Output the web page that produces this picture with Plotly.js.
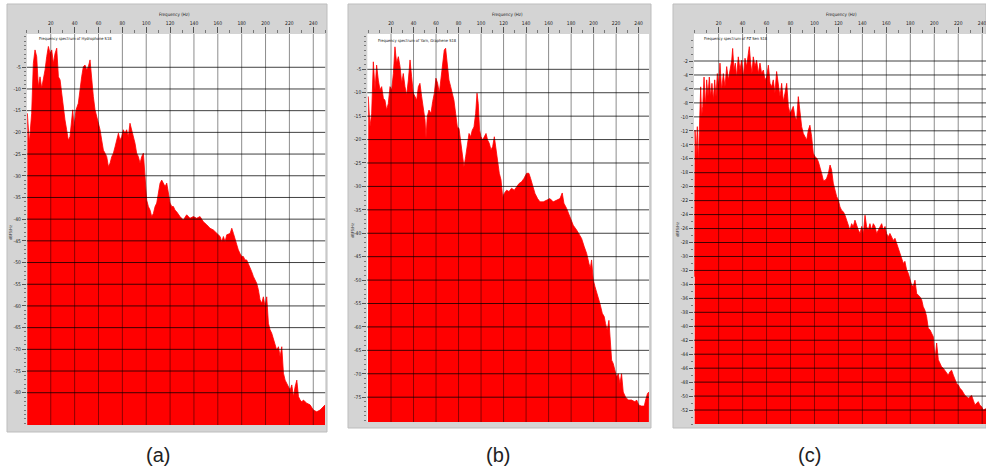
<!DOCTYPE html>
<html><head><meta charset="utf-8">
<script src="https://cdn.plot.ly/plotly-3.0.1.min.js"></script>
<style>html,body{margin:0;padding:0;background:#fff;}#chart{width:986px;height:471px;}</style>
</head><body><div id="chart"></div>
<script>
// ---- data (frequency in Hz, level in dB) ----
const FREQ_A = [0.4,2.0,4.0,5.4,6.8,8.2,9.6,11.0,12.4,13.8,15.2,16.6,18.0,19.4,20.8,22.2,23.6,25.0,26.4,27.8,29.1,30.5,31.9,33.3,34.7,36.1,37.5,38.4,39.5,41.2,43.1,44.5,45.9,47.3,48.7,50.1,51.5,52.9,54.3,55.7,57.1,58.5,59.9,61.3,62.7,64.1,65.5,66.9,68.3,69.7,71.1,72.5,73.9,75.3,76.7,78.0,79.4,80.8,82.2,83.6,85.0,86.4,87.8,89.2,90.6,92.0,93.4,94.8,96.2,97.6,99.0,100.4,101.8,103.2,104.6,106.0,107.4,108.8,110.2,111.6,113.0,114.4,115.8,117.2,118.6,120.0,121.4,122.8,124.1,125.5,128.3,131.1,133.9,136.7,139.5,142.3,145.1,147.9,150.7,153.5,156.3,159.1,161.9,163.3,164.7,166.1,167.5,170.3,171.7,173.1,174.5,175.8,177.2,178.6,180.0,181.4,182.8,184.2,185.6,187.0,188.4,189.8,191.2,192.6,194.0,195.4,196.8,198.2,199.6,201.0,202.4,203.8,205.2,206.6,208.0,209.4,210.8,212.2,213.6,215.0,216.4,217.8,219.2,220.6,222.0,223.4,224.8,226.2,227.6,229.0,230.4,231.7,234.5,237.3,240.1,242.9,245.7,248.5,249.9];
const DB_A = [-15.6,-22.5,-15.6,-4.1,-1.0,-2.55,-9.5,-7.2,-9.8,-7.9,-5.6,-2.55,-0.2,-1.8,-1.0,-4.1,-1.8,-0.6,-7.2,-7.9,-11.0,-14.1,-17.1,-19.4,-21.8,-21.0,-17.9,-14.8,-18.7,-14.8,-13.3,-9.5,-7.2,-4.85,-4.5,-5.6,-4.85,-3.3,-7.9,-11.8,-14.8,-16.4,-17.9,-19.4,-21.8,-24.1,-24.8,-25.6,-27.9,-27.1,-25.6,-24.8,-23.3,-21.8,-20.2,-21.8,-21.0,-19.4,-20.2,-19.4,-21.0,-17.9,-19.4,-21.0,-22.5,-24.8,-25.6,-27.1,-25.6,-24.8,-30.2,-35.6,-37.1,-37.9,-39.4,-38.7,-37.1,-36.3,-34.0,-31.7,-31.0,-31.7,-32.5,-31.7,-34.0,-36.3,-37.1,-37.1,-37.9,-38.3,-39.4,-40.2,-39.0,-39.8,-39.4,-39.8,-39.4,-40.6,-41.3,-42.1,-42.5,-43.3,-44.0,-45.2,-44.0,-45.2,-43.6,-43.3,-42.1,-43.3,-44.8,-45.6,-47.1,-47.9,-48.6,-48.6,-49.4,-49.4,-50.2,-51.3,-52.1,-53.2,-54.0,-54.8,-56.3,-58.6,-59.4,-57.9,-60.2,-57.9,-64.0,-65.5,-66.3,-67.8,-68.6,-70.2,-69.4,-71.7,-69.4,-75.5,-77.1,-77.8,-78.6,-79.4,-78.2,-80.9,-78.6,-77.1,-80.9,-81.7,-82.1,-81.7,-82.4,-82.8,-84.0,-84.4,-84.0,-83.2,-82.8];

const FREQ_B = [-0.2,1.3,2.8,4.3,5.8,7.2,8.7,10.2,11.7,13.2,14.6,16.1,17.6,19.1,20.6,22.1,23.5,25.0,26.5,28.0,29.5,30.9,32.4,33.9,35.4,36.9,38.3,39.8,41.3,42.8,44.3,45.7,47.2,48.7,50.2,51.1,52.2,53.7,55.5,57.0,58.5,59.9,61.4,62.9,64.4,65.9,67.3,68.5,70.0,71.5,73.0,74.5,75.9,77.4,78.9,80.4,81.9,83.3,84.8,86.3,87.8,89.3,90.7,92.2,93.7,95.2,96.4,97.5,98.7,99.9,101.4,102.9,104.4,105.8,107.3,108.8,110.3,111.8,113.2,114.7,116.2,117.7,119.2,120.6,122.7,124.8,127.1,129.5,131.6,133.7,136.0,138.1,140.5,142.5,144.0,145.5,147.9,150.2,152.3,155.3,158.2,161.2,164.1,167.1,170.1,172.1,173.6,176.0,178.9,181.9,184.9,186.9,189.3,191.7,193.8,195.8,197.0,198.2,199.7,201.2,203.2,205.6,207.7,209.4,210.6,212.1,213.6,214.8,216.0,217.4,218.9,220.4,221.9,223.4,224.8,226.3,228.4,230.8,233.7,236.7,238.2,240.2,242.6,245.0,246.2,247.9,249.1];
const DB_B = [-10.8,-17.3,-14.4,-3.4,-9.4,-4.1,-7.3,-9.4,-8.7,-11.2,-11.6,-13.7,-12.3,-8.7,-9.4,-5.9,-0.2,-3.7,-2.3,-4.4,-8.0,-5.9,-8.7,-10.5,-7.3,-3.0,-6.6,-10.1,-10.8,-11.6,-8.7,-8.0,-10.8,-13.7,-15.8,-19.7,-15.1,-13.7,-14.4,-11.9,-10.1,-6.9,-8.0,-10.1,-7.3,-3.7,-0.9,-0.5,-4.4,-7.3,-8.7,-10.1,-11.6,-14.4,-17.3,-17.6,-20.1,-23.0,-25.8,-23.7,-21.5,-18.7,-19.4,-18.0,-17.3,-14.4,-10.1,-12.3,-18.0,-19.4,-20.1,-19.4,-18.7,-20.1,-20.8,-22.2,-21.5,-19.4,-22.2,-25.1,-27.2,-28.6,-32.2,-31.5,-30.8,-31.1,-30.4,-30.8,-30.1,-29.4,-29.0,-28.3,-27.2,-27.2,-28.3,-29.4,-31.5,-32.6,-33.3,-33.3,-32.9,-32.6,-33.3,-32.9,-32.6,-31.4,-33.6,-34.7,-36.5,-38.3,-39.3,-40.0,-41.1,-42.9,-44.3,-46.4,-47.5,-45.7,-50.0,-51.4,-52.9,-55.0,-57.1,-57.8,-59.3,-60.7,-58.6,-63.5,-67.1,-67.8,-69.2,-70.7,-70.0,-72.1,-70.0,-73.9,-75.0,-75.6,-75.6,-76.0,-75.6,-76.7,-76.9,-76.9,-75.6,-74.2,-73.9];

const FREQ_C = [0.0,0.3,1.1,2.2,3.0,3.9,5.0,5.8,6.7,7.8,8.9,10.0,11.1,12.2,13.3,14.4,15.6,16.7,17.8,18.9,20.0,21.1,22.5,23.9,25.3,26.7,28.1,29.5,30.9,31.7,32.8,33.9,35.0,36.4,37.8,39.2,40.6,42.0,43.4,44.8,45.6,46.7,47.8,48.9,50.3,51.7,53.1,54.5,55.9,57.3,58.7,60.1,61.5,62.9,64.2,65.6,67.0,68.4,69.8,71.2,72.6,74.0,75.4,76.8,78.2,79.6,81.0,82.3,83.7,85.1,86.5,87.9,89.3,90.7,92.1,93.5,94.9,96.2,97.6,99.0,100.4,101.8,103.2,104.6,106.0,107.4,108.8,110.2,111.6,113.0,114.3,115.7,117.1,118.5,119.9,121.3,122.7,124.1,125.5,126.9,128.2,129.6,131.0,132.4,133.8,135.2,136.6,138.0,139.4,140.8,142.2,143.5,144.9,146.3,147.7,149.1,150.5,151.9,153.3,154.7,156.1,157.5,158.9,160.2,161.6,163.0,164.4,165.8,167.2,168.6,170.0,171.4,172.8,174.2,175.5,176.9,178.3,179.7,181.1,182.5,183.9,185.3,186.7,188.1,189.5,190.8,192.2,193.6,195.0,196.4,197.8,199.2,200.6,202.0,203.4,204.8,206.1,207.5,208.9,210.3,211.7,213.1,214.5,215.9,217.3,218.7,220.1,221.5,222.8,224.2,225.6,227.0,228.4,229.8,231.2,232.6,234.0,235.4,236.8,238.1,239.5,240.9,243.2];
const DB_C = [-32.9,-11.9,-15.7,-11.4,-16.7,-11.9,-5.7,-10.0,-8.5,-4.3,-8.5,-4.7,-7.1,-4.3,-7.1,-5.2,-7.6,-4.7,-7.1,-3.8,-5.7,-2.3,-6.2,-3.8,-5.7,-2.8,-4.7,-3.3,-1.9,-0.2,-3.3,-2.3,-4.3,-1.4,-3.3,-1.9,-4.3,-1.6,-2.8,-0.9,0.05,-2.3,-3.8,-1.4,-2.8,-1.9,-3.8,-2.3,-3.8,-3.3,-4.7,-4.3,-2.6,-5.2,-5.7,-4.7,-6.6,-3.5,-5.7,-7.1,-5.2,-7.8,-6.6,-5.2,-8.5,-9.5,-9.0,-8.5,-10.0,-10.5,-7.1,-9.5,-11.4,-12.4,-12.8,-13.3,-11.9,-11.2,-12.8,-15.2,-15.7,-15.9,-16.4,-17.1,-18.1,-19.1,-19.1,-18.8,-18.1,-16.9,-17.6,-19.5,-20.5,-21.4,-21.9,-22.9,-23.4,-23.6,-24.1,-24.8,-25.3,-26.2,-25.3,-25.7,-24.8,-25.7,-26.2,-26.7,-25.7,-26.7,-24.1,-25.7,-26.2,-25.3,-26.2,-25.3,-25.7,-26.7,-26.2,-25.7,-25.3,-26.2,-25.7,-26.7,-27.2,-26.7,-27.2,-27.7,-27.4,-28.1,-29.1,-29.6,-30.5,-31.0,-30.7,-31.9,-32.4,-33.4,-34.1,-34.3,-33.4,-35.3,-35.5,-35.8,-36.2,-37.2,-37.7,-38.6,-40.3,-40.5,-41.0,-41.5,-44.8,-42.4,-44.8,-45.3,-45.8,-46.0,-46.3,-46.7,-47.0,-46.5,-46.3,-47.0,-47.5,-48.2,-48.4,-48.9,-49.1,-49.6,-49.9,-50.1,-50.3,-50.1,-49.9,-50.6,-51.3,-51.0,-50.8,-51.3,-51.5,-52.0,-51.8];

// ---- tick labels ----
const XTICKS = [20,40,60,80,100,120,140,160,180,200,220,240];
const YTICKS_A = [-5,-10,-15,-20,-25,-30,-35,-40,-45,-50,-55,-60,-65,-70,-75,-80];
const YTICKS_B = [-5,-10,-15,-20,-25,-30,-35,-40,-45,-50,-55,-60,-65,-70,-75];
const YTICKS_C = [-2,-4,-6,-8,-10,-12,-14,-16,-18,-20,-22,-24,-26,-28,-30,-32,-34,-36,-38,-40,-42,-44,-46,-48,-50,-52];

const TITLES = ['Frequency spectrum of Hydrophone S18','Frequency spectrum of Yarn, Graphene S18','Frequency spectrum of PZ Sen S18'];
const LABELS = ['(a)','(b)','(c)'];
const X_TITLE = 'Frequency (Hz)';
const Y_TITLE = 'dBFS/Hz';

// ---- layout geometry (pixels) ----
const W = 986, H = 471;
const px = x => x / W, py = y => 1 - y / H;
const FLOOR = -200;
const SMALL = 'Liberation Sans Narrow, DejaVu Sans Condensed, Liberation Sans, Arial, sans-serif';

const panels = [
  {freq:FREQ_A, db:DB_A, yt:YTICKS_A, plot:[26.9,325.2,34,425], xr:[0,250], yr:[-87.44,2.67], frame:[7,327,4,432], tt:[37,39], xt:174, ytl:[10,233], lx:158},
  {freq:FREQ_B, db:DB_B, yt:YTICKS_B, plot:[367.3,649,34,422], xr:[-1.07,249.2], yr:[-80.3,2.54], frame:[348,651,4,428], tt:[376,41], xt:508, ytl:[352,231], lx:498},
  {freq:FREQ_C, db:DB_C, yt:YTICKS_C, plot:[694,986,34,424], xr:[-0.58,243.2], yr:[-54.0,1.87], frame:[673,986,4,428], tt:[702,39], xt:841, ytl:[677,230], lx:809}
];

const data = [], shapes = [], annotations = [];
const layout = {width:W, height:H, margin:{l:0,r:0,t:0,b:0}, paper_bgcolor:'#fff', plot_bgcolor:'#fff', showlegend:false};

panels.forEach((p, i) => {
  const n = i === 0 ? '' : String(i + 1);
  const xid = 'x' + n, yid = 'y' + n;
  shapes.push({type:'rect', xref:'paper', yref:'paper', x0:px(p.frame[0]), x1:px(p.frame[1]), y0:py(p.frame[3]), y1:py(p.frame[2]), fillcolor:'#d4d4d4', line:{color:'#bdbdbd', width:1}, layer:'below'});
  shapes.push({type:'rect', xref:xid+' domain', yref:yid+' domain', x0:0, x1:1, y0:0, y1:1, fillcolor:'#ffffff', line:{width:0}, layer:'below'});
  data.push({x:[p.xr[0], p.xr[1]], y:[FLOOR, FLOOR], xaxis:xid, yaxis:yid, mode:'lines', line:{width:0, color:'#ff0000'}, hoverinfo:'skip'});
  data.push({x:p.freq, y:p.db, xaxis:xid, yaxis:yid, mode:'lines', line:{width:0.8, color:'#ff0000'}, fill:'tonexty', fillcolor:'#ff0000'});
  XTICKS.forEach(v => shapes.push({type:'line', xref:xid, yref:yid+' domain', x0:v, x1:v, y0:0, y1:1, line:{color:'rgba(0,0,0,0.45)', width:1}, layer:'above'}));
  p.yt.forEach(v => shapes.push({type:'line', xref:xid+' domain', yref:yid, x0:0, x1:1, y0:v, y1:v, line:{color:'rgba(0,0,0,0.75)', width:1}, layer:'above'}));
  layout['xaxis' + n] = {domain:[px(p.plot[0]), px(p.plot[1])], range:p.xr, anchor:yid, side:'top',
    tickmode:'array', tickvals:XTICKS, ticktext:XTICKS.map(String), ticks:'outside', ticklen:6, tickwidth:1, tickcolor:'#555',
    ticklabeloverflow:'allow',
    tickfont:{family:SMALL, size:5, color:'#222'}, showgrid:false, zeroline:false, showline:false, fixedrange:true,
    minor:{tickmode:'linear', tick0:0, dtick:10, ticks:'outside', ticklen:3, tickcolor:'#777', showgrid:false}};
  layout['yaxis' + n] = {domain:[py(p.plot[3]), py(p.plot[2])], range:p.yr, anchor:xid,
    tickmode:'array', tickvals:p.yt, ticktext:p.yt.map(String), ticks:'outside', ticklen:4, tickwidth:1, tickcolor:'#555',
    tickfont:{family:SMALL, size:5, color:'#222'}, showgrid:false, zeroline:false, showline:false, fixedrange:true,
    minor:{tickmode:'linear', tick0:0, dtick:1, ticks:'outside', ticklen:2, tickcolor:'#777', showgrid:false}};
  annotations.push({text:TITLES[i], xref:'paper', yref:'paper', x:px(p.tt[0]), y:py(p.tt[1]), xanchor:'left', yanchor:'middle', showarrow:false, font:{family:SMALL, size:4, color:'#111'}});
  annotations.push({text:X_TITLE, xref:'paper', yref:'paper', x:px(p.xt), y:py(15), xanchor:'center', yanchor:'middle', showarrow:false, font:{family:SMALL, size:4.5, color:'#222'}});
  annotations.push({text:Y_TITLE, xref:'paper', yref:'paper', x:px(p.ytl[0]), y:py(p.ytl[1]), xanchor:'center', yanchor:'middle', textangle:-90, showarrow:false, font:{family:SMALL, size:4, color:'#333'}});
  annotations.push({text:LABELS[i], xref:'paper', yref:'paper', x:px(p.lx), y:py(455), xanchor:'center', yanchor:'middle', showarrow:false, font:{family:'Liberation Sans, Arial, sans-serif', size:20, color:'#222'}});
});

layout.shapes = shapes;
layout.annotations = annotations;
Plotly.newPlot('chart', data, layout, {displayModeBar:false, staticPlot:true});
</script></body></html>
